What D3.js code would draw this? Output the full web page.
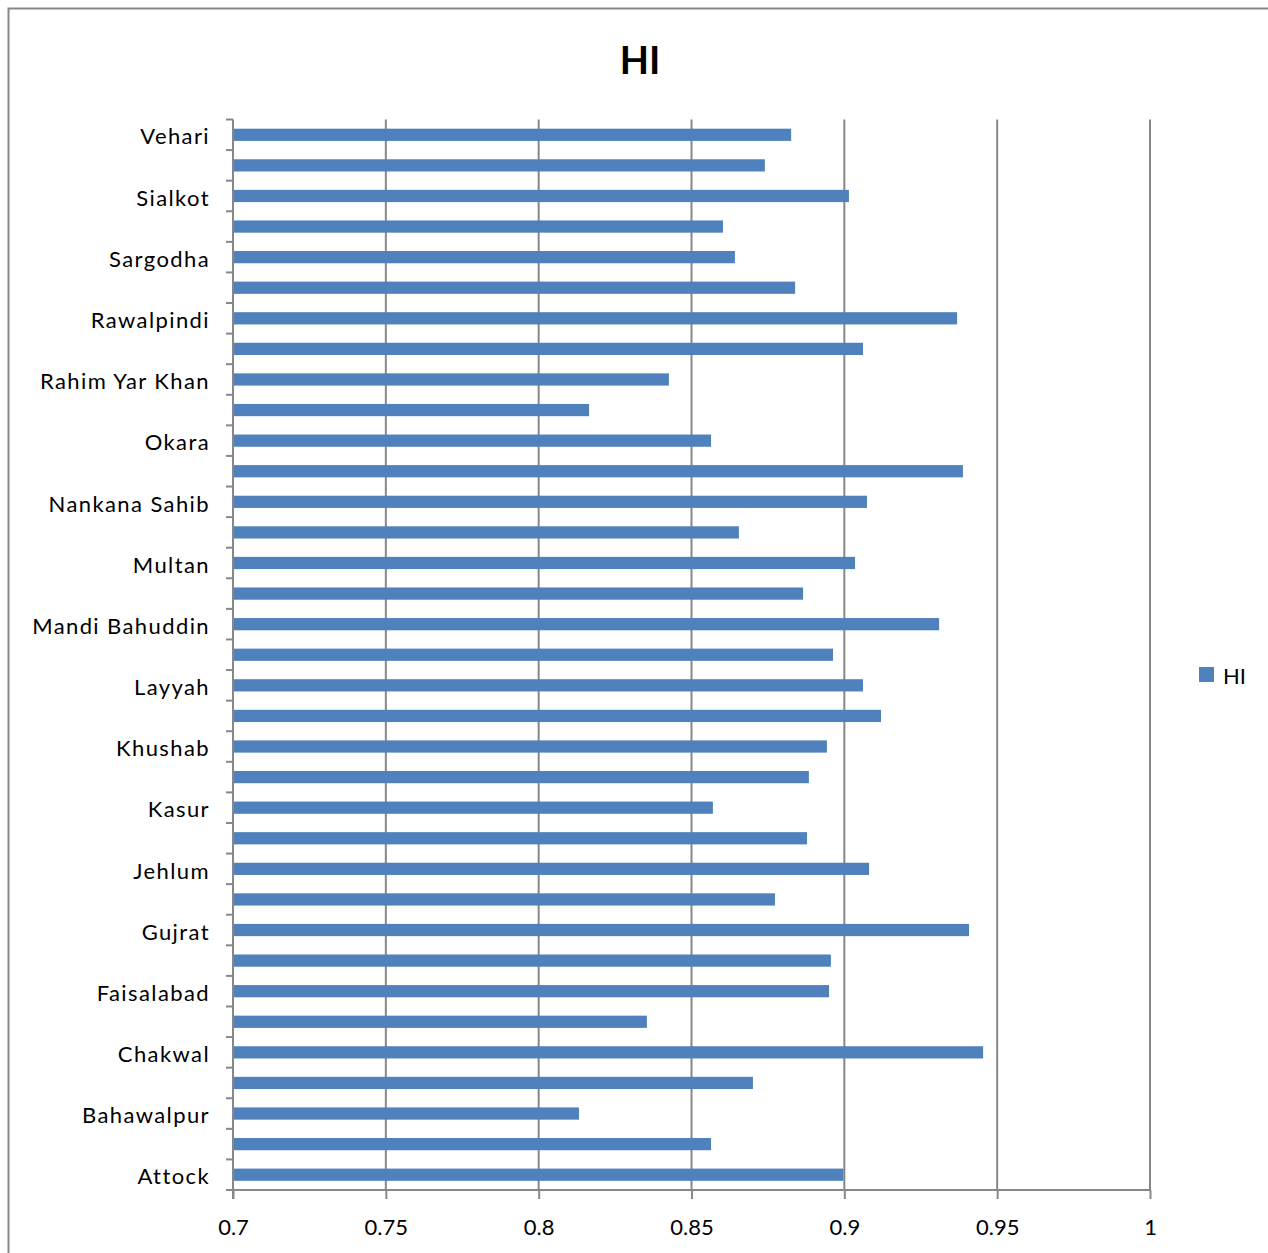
<!DOCTYPE html>
<html>
<head>
<meta charset="utf-8">
<script src="https://cdn.jsdelivr.net/npm/d3@7"></script>
<style>
  html, body { margin: 0; padding: 0; background: #fff; }
  svg { display: block; font-family: Lato, "Open Sans", "Liberation Sans", sans-serif; }
</style>
</head>
<body>
<svg id="chart" width="1268" height="1253"></svg>
<script>
// Districts, bottom to top as they appear on the category axis
const districts = [
  "Attock", "Bahawalnagar", "Bahawalpur", "Bhakkar", "Chakwal", "D.G. Khan",
  "Faisalabad", "Gujranwala", "Gujrat", "Hafizabad", "Jehlum", "Jhang",
  "Kasur", "Khanewal", "Khushab", "Lahore", "Layyah", "Lodhran",
  "Mandi Bahuddin", "Mianwali", "Multan", "Muzaffargarh", "Nankana Sahib", "Narowal",
  "Okara", "Pakpattan", "Rahim Yar Khan", "Rajanpur", "Rawalpindi", "Sahiwal",
  "Sargodha", "Sheikhupura", "Sialkot", "Toba Tek Singh", "Vehari"
];

// HI value per district (same order)
const hiValues = [
  0.8997, 0.8564, 0.8132, 0.8701, 0.9454, 0.8354,
  0.8950, 0.8956, 0.9408, 0.8773, 0.9081, 0.8878,
  0.8570, 0.8884, 0.8943, 0.9120, 0.9061, 0.8963,
  0.9310, 0.8865, 0.9035, 0.8655, 0.9074, 0.9388,
  0.8564, 0.8165, 0.8426, 0.9061, 0.9369, 0.8839,
  0.8642, 0.8603, 0.9015, 0.8740, 0.8826
];

const xTicks = [0.7, 0.75, 0.8, 0.85, 0.9, 0.95, 1];
const seriesName = "HI";

const svg = d3.select("#chart");
const gridColor = "#878787";
const barColor = "#4f81bd";

const plot = { left: 233, right: 1150, top: 119.5, bottom: 1190 };

// Outer chart frame (runs off the right and bottom edges)
svg.append("path")
  .attr("d", "M8.5,1253 V8.5 H1268")
  .attr("fill", "none")
  .attr("stroke", gridColor)
  .attr("stroke-width", 2);

const x = d3.scaleLinear().domain([0.7, 1]).range([plot.left, plot.right]);
// Categories run from bottom to top
const y = d3.scaleBand()
  .domain(districts.slice().reverse())
  .range([plot.top, plot.bottom])
  .paddingInner(0.6)
  .paddingOuter(0.3);

// Vertical gridlines
svg.append("g")
  .selectAll("line")
  .data(xTicks.slice(1))
  .join("line")
  .attr("x1", d => x(d)).attr("x2", d => x(d))
  .attr("y1", plot.top).attr("y2", plot.bottom)
  .attr("stroke", gridColor)
  .attr("stroke-width", 2);

// Bars
svg.append("g")
  .selectAll("rect")
  .data(districts.map((d, i) => ({ name: d, value: hiValues[i] })))
  .join("rect")
  .attr("x", x(0.7))
  .attr("y", d => y(d.name))
  .attr("width", d => x(d.value) - x(0.7))
  .attr("height", y.bandwidth())
  .attr("fill", barColor);

// Bottom value axis
const xAxis = svg.append("g")
  .attr("transform", `translate(0,${plot.bottom})`)
  .call(d3.axisBottom(x).tickValues(xTicks).tickSize(9).tickPadding(20)
    .tickFormat(d => d3.format("")(+d.toFixed(2))));
xAxis.select(".domain").attr("stroke", gridColor).attr("stroke-width", 2)
  .attr("d", `M${plot.left},0H${plot.right}`);
xAxis.selectAll(".tick line").attr("stroke", gridColor).attr("stroke-width", 2);
xAxis.selectAll(".tick text")
  .attr("font-size", 22).attr("fill", "#000")
  .attr("font-family", "Lato, 'Open Sans', sans-serif");

// Left category axis: ticks at band boundaries, every other label drawn
const boundaries = d3.range(districts.length + 1).map(i => plot.top + i * (plot.bottom - plot.top) / districts.length);
const yAxis = svg.append("g");
yAxis.append("line")
  .attr("x1", plot.left).attr("x2", plot.left)
  .attr("y1", plot.top).attr("y2", plot.bottom + 9)
  .attr("stroke", gridColor).attr("stroke-width", 2);
yAxis.selectAll("line.tk")
  .data(boundaries)
  .join("line")
  .attr("class", "tk")
  .attr("x1", plot.left - 7).attr("x2", plot.left)
  .attr("y1", d => d).attr("y2", d => d)
  .attr("stroke", gridColor).attr("stroke-width", 2);
yAxis.selectAll("text")
  .data(districts.filter((d, i) => i % 2 === 0))
  .join("text")
  .attr("x", 210)
  .attr("y", d => y(d) + y.bandwidth() / 2 + 2)
  .attr("dy", "0.35em")
  .attr("text-anchor", "end")
  .attr("font-size", 22)
  .attr("letter-spacing", "1.4px")
  .attr("fill", "#000")
  .text(d => d);

// Title
svg.append("text")
  .attr("x", 640).attr("y", 74)
  .attr("text-anchor", "middle")
  .attr("font-size", 38)
  .attr("font-weight", "bold")
  .attr("fill", "#000")
  .text(seriesName);

// Legend
const legend = svg.append("g").attr("transform", "translate(1199,667)");
legend.append("rect").attr("width", 15).attr("height", 15).attr("fill", barColor);
legend.append("text")
  .attr("x", 24).attr("y", 9)
  .attr("dy", "0.35em")
  .attr("font-size", 22)
  .attr("fill", "#000")
  .text(seriesName);
</script>
</body>
</html>
